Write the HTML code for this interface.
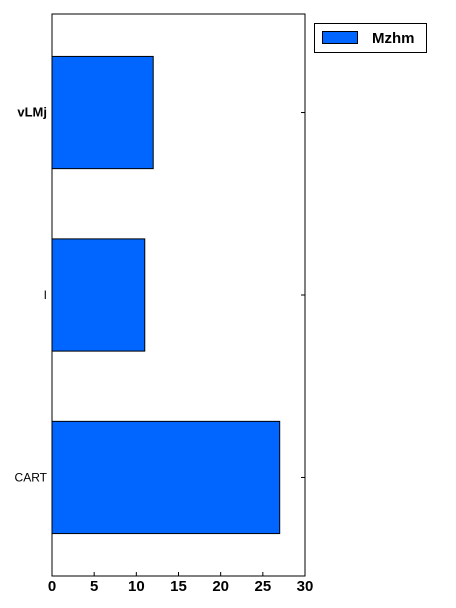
<!DOCTYPE html>
<html><head><meta charset="utf-8"><style>
body{margin:0;background:#fff;}
svg{display:block;font-family:"Liberation Sans",sans-serif;}
</style></head><body>
<svg id="chart" width="456" height="608" viewBox="0 0 456 608">
<rect x="0" y="0" width="456" height="608" fill="#fff"/>
<g id="marks"></g>
<rect x="52" y="14" width="253" height="562" fill="none" stroke="#000" stroke-width="1"/>
<g id="axes"></g>
<g>
<rect x="314.5" y="23.5" width="112" height="29" fill="#fff" stroke="#000"/>
<rect x="322.5" y="31.5" width="35" height="12" fill="#0066ff" stroke="#000"/>
<text x="372" y="43" font-size="15" font-weight="bold">Mzhm</text>
</g>
</svg>
<script>
const categories = ["CART", "I", "vLMj"];
const values = [27, 11, 12];
const xTicks = [0, 5, 10, 15, 20, 25, 30];
const boldCats = ["vLMj"];

const L=52,R=305,T=14,B=576;
const xs=v=>L+(v-0)/(30-0)*(R-L);
const yMin=-0.54,yMax=2.54;
const ys=i=>B-(i-yMin)/(yMax-yMin)*(B-T);
const bw=0.615*(B-T)/(yMax-yMin);
const NS="http://www.w3.org/2000/svg";
const marks=document.getElementById('marks'),axes=document.getElementById('axes');
function mk(tag,attrs,parent){const e=document.createElementNS(NS,tag);for(const k in attrs)e.setAttribute(k,attrs[k]);parent.appendChild(e);return e;}
categories.forEach((c,i)=>{
  const r=mk('rect',{x:xs(0),y:ys(i)-bw/2,width:xs(values[i])-xs(0),height:bw,fill:'#0066ff',stroke:'#000','stroke-width':1},marks);
  
  
  const t=mk('text',{x:47,y:ys(i)+4,'text-anchor':'end','font-size':c==="vLMj"?13:12,'font-weight':boldCats.includes(c)?'bold':'normal'},axes);
  t.textContent=c;
  
  
  const tr=mk('line',{x1:R-4,x2:R,y1:ys(i),y2:ys(i),stroke:'#000'},axes);
  
  
});
xTicks.forEach(v=>{
  const tk=mk('line',{x1:xs(v),x2:xs(v),y1:B,y2:B-4,stroke:'#000'},axes);
  
  
  const t=mk('text',{x:xs(v),y:591,'text-anchor':'middle','font-size':15,'font-weight':'bold'},axes);
  t.textContent=v;
  
  
});
</script>
</body></html>
